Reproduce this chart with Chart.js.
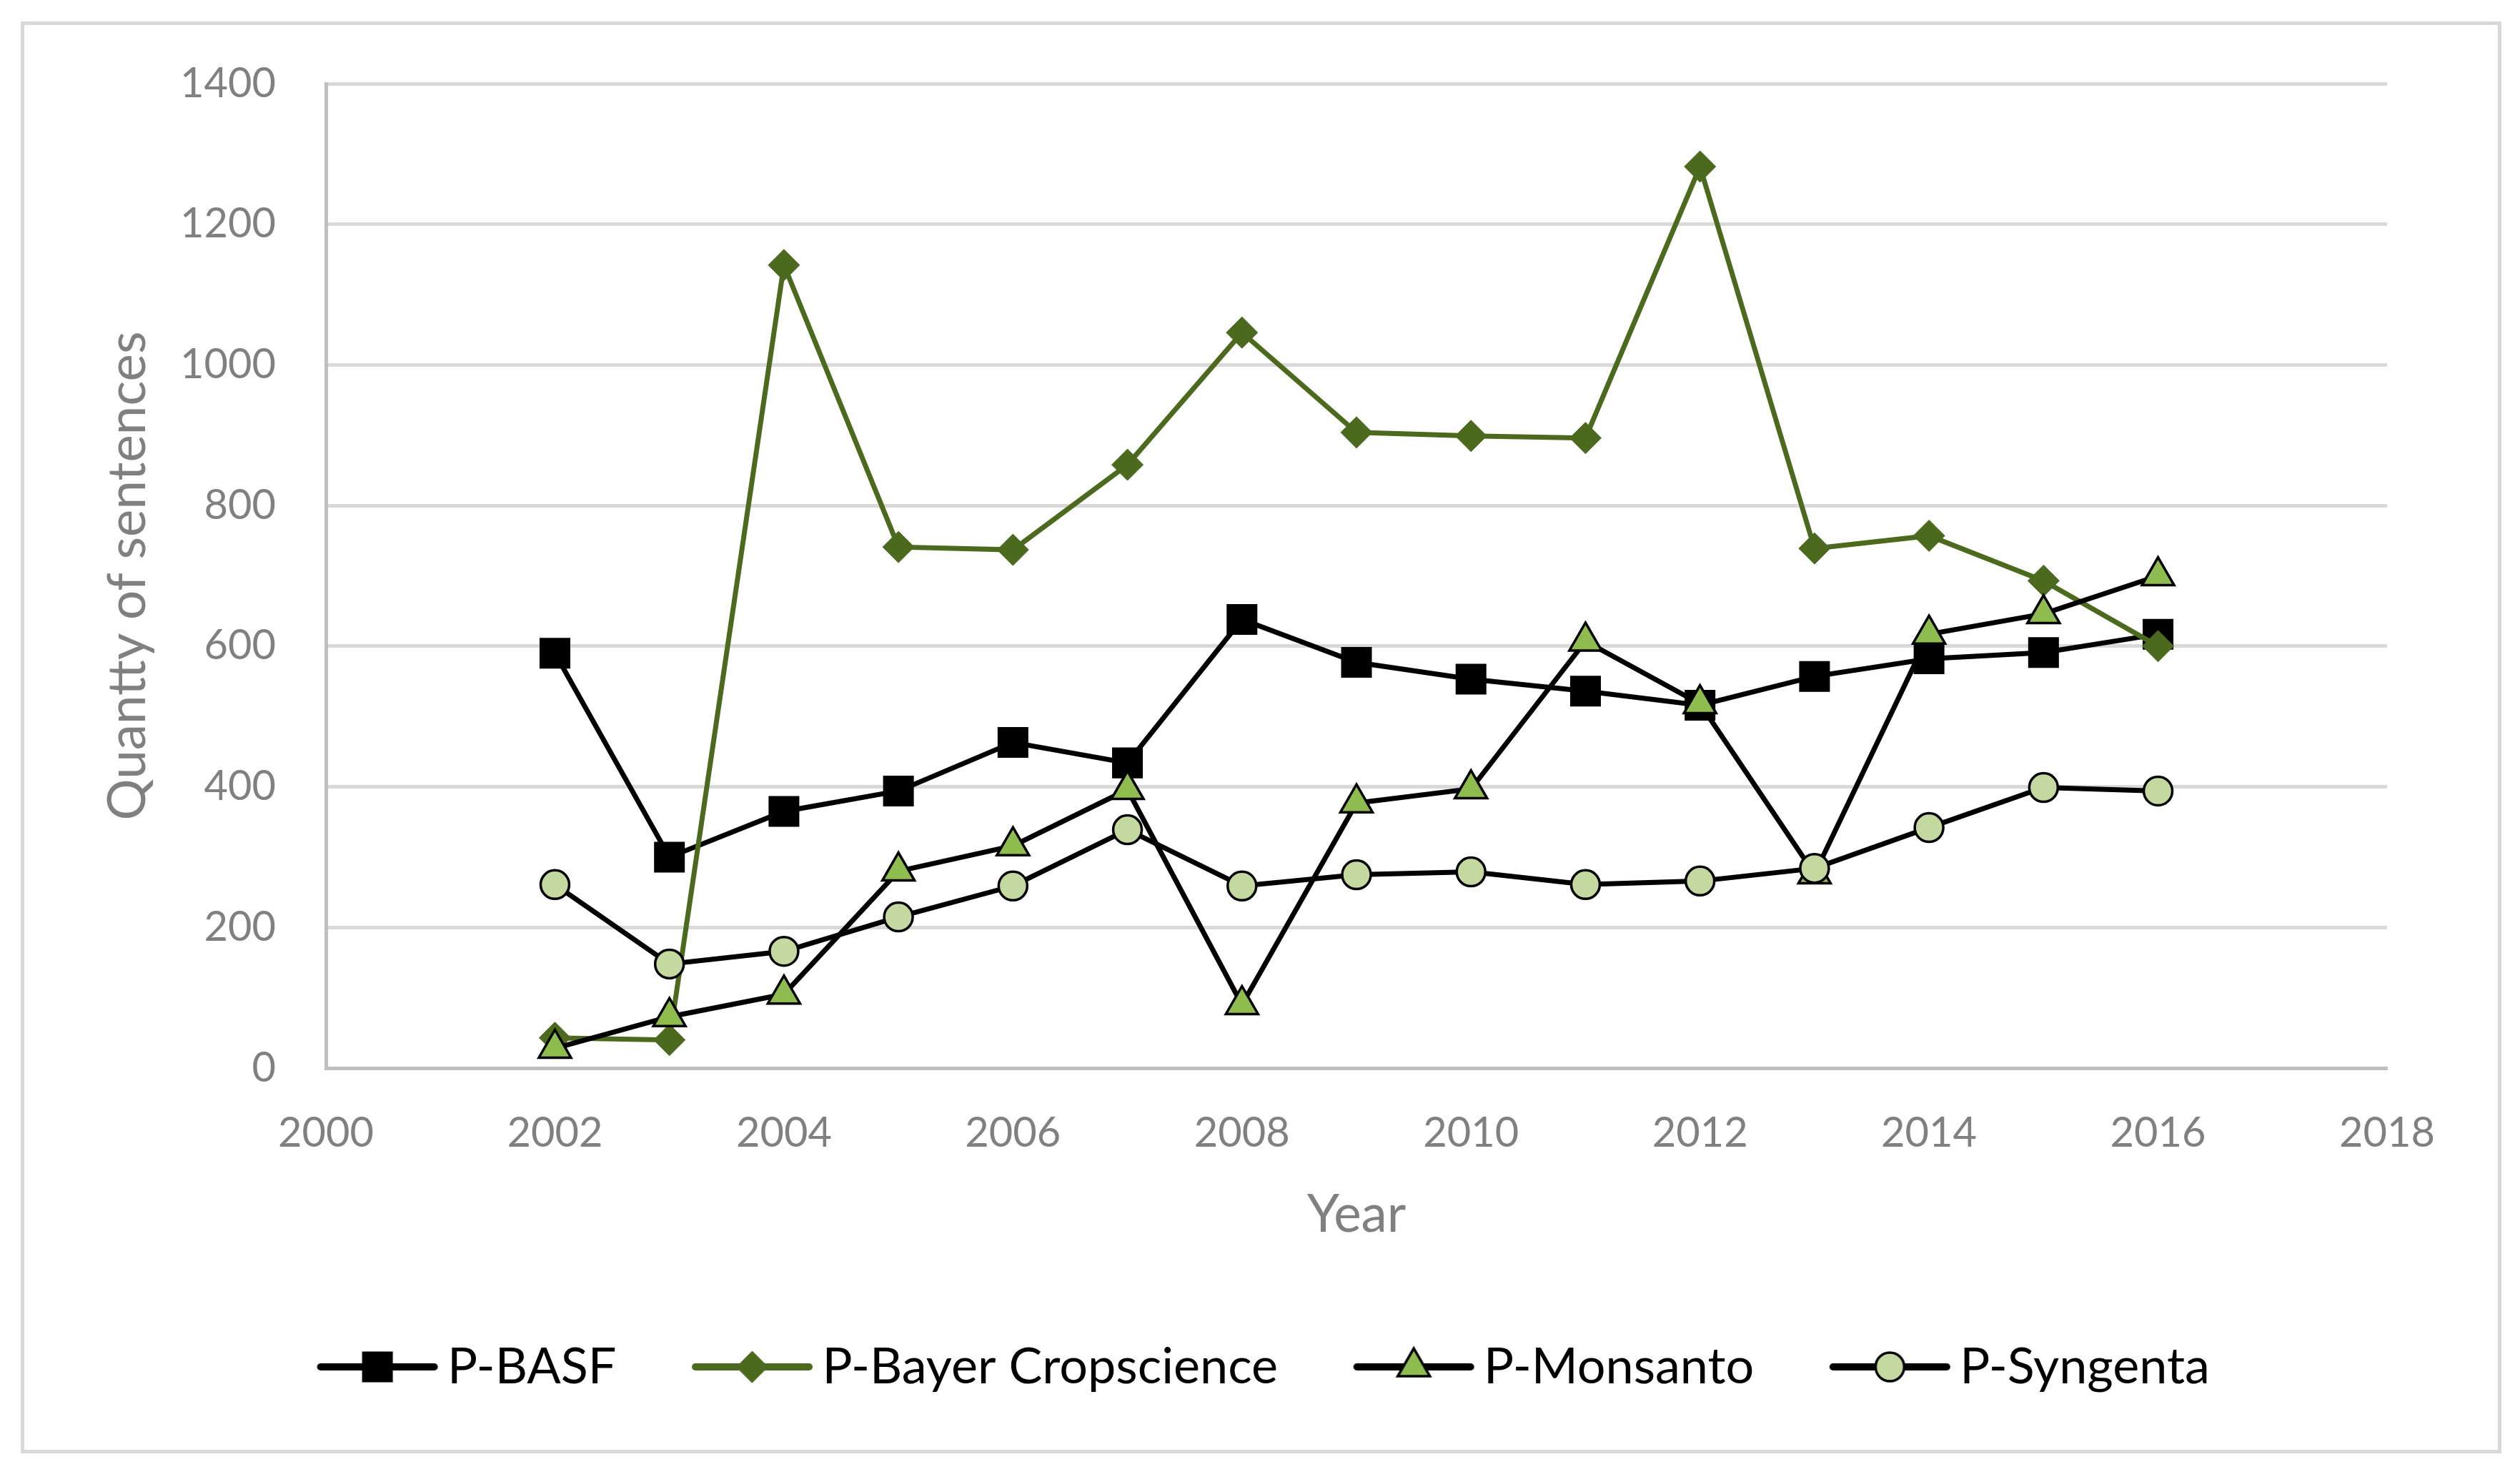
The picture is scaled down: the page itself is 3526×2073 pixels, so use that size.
<!DOCTYPE html>
<html>
<head>
<meta charset="utf-8">
<script src="https://cdn.jsdelivr.net/npm/chart.js@4/dist/chart.umd.min.js"></script>
<style>
  html, body { margin: 0; padding: 0; background: #fff; }
  canvas { display: block; }
</style>
</head>
<body>
<canvas id="chart" width="3526" height="2073"></canvas>
<script>
  // ── Data ─────────────────────────────────────────────────────────────────
  const years    = [2002, 2003, 2004, 2005, 2006, 2007, 2008, 2009, 2010, 2011, 2012, 2013, 2014, 2015, 2016];
  const basf     = [590, 300, 365, 394, 463, 434, 638, 577, 553, 536, 516, 557, 582, 591, 617];
  const bayer    = [43, 40, 1142, 741, 737, 858, 1046, 904, 899, 896, 1282, 739, 757, 693, 600];
  const monsanto = [28, 73, 105, 280, 316, 396, 90, 377, 397, 607, 518, 276, 617, 646, 700];
  const syngenta = [261, 148, 166, 215, 259, 339, 259, 275, 279, 261, 266, 284, 342, 399, 394];

  const seriesNames = ["P-BASF", "P-Bayer Cropscience", "P-Monsanto", "P-Syngenta"];
  const xTicks = [2000, 2002, 2004, 2006, 2008, 2010, 2012, 2014, 2016, 2018];
  const yTicks = [0, 200, 400, 600, 800, 1000, 1200, 1400];
  const xTitle = "Year";
  const yTitle = "Quantty of sentences";

  // ── Fonts: fit sizes so text widths match the reference (Calibri-ish) ───
  const FONT = 'Lato, "Open Sans", sans-serif';
  const mctx = document.createElement("canvas").getContext("2d");
  const fit = (text, target) => {
    mctx.font = "100px " + FONT;
    return 100 * target / mctx.measureText(text).width;
  };
  const tickSize   = fit("1400", 134);
  const titleSize  = (fit(xTitle, 140) + fit(yTitle, 677)) / 2;
  const legendSize = fit(seriesNames.join(""), 1600);

  // ── Layout targets (pixels) ──────────────────────────────────────────────
  const PLOT = { left: 456, right: 3340, top: 117, bottom: 1494 };
  const PAD_L = 100;
  const legPad = 10;
  const legendH = legPad + legendSize + 10;
  const legendTop = 1912 - legPad - legendSize / 2;
  const padBottom = 2073 - legendTop - legendH;
  const xAxisH = legendTop - PLOT.bottom;

  const GREEN_DARK = "#4b6a1e";
  const GREEN_MID  = "#8fbc4f";
  const GREEN_LITE = "#c3d99f";

  const styles = [
    { line: "#000", lineWidth: 7, pointStyle: "rect",     radius: 29, fill: "#000",     stroke: "#000",     bw: 2 },
    { line: GREEN_DARK, lineWidth: 7, pointStyle: "rectRot", radius: 22, fill: GREEN_DARK, stroke: GREEN_DARK, bw: 1 },
    { line: "#000", lineWidth: 7, pointStyle: "triangle", radius: 26, fill: GREEN_MID,  stroke: "#000",     bw: 3.5 },
    { line: "#000", lineWidth: 7, pointStyle: "circle",   radius: 20, fill: GREEN_LITE, stroke: "#000",     bw: 3.5 }
  ];
  const values = [basf, bayer, monsanto, syngenta];

  // ── Legend swatch: line with marker, drawn into a small canvas ───────────
  // boxWidth W sets the gap between items; the swatch sits at the right of the box.
  const W = 288 - legPad - legendSize / 2;
  const lineA = W / 2 + legendSize / 2 - 177;   // line start, relative to box centre
  const lineB = W / 2 + legendSize / 2 - 18;    // line end
  function makeSwatch(st) {
    const hw = Math.max(Math.abs(lineA), Math.abs(lineB)) + 6;
    const c = document.createElement("canvas");
    c.width = Math.ceil(hw * 2);
    c.height = 70;
    const g = c.getContext("2d");
    const cy = c.height / 2;
    g.strokeStyle = st.line;
    g.lineWidth = 10;
    g.lineCap = "round";
    g.beginPath();
    g.moveTo(hw + lineA, cy);
    g.lineTo(hw + lineB, cy);
    g.stroke();
    g.fillStyle = st.fill;
    g.strokeStyle = st.stroke;
    g.lineWidth = st.bw;
    Chart.helpers.drawPoint(g, { pointStyle: st.pointStyle, radius: st.radius, borderWidth: st.bw, rotation: 0 },
      hw + (lineA + lineB) / 2, cy);
    return c;
  }
  const swatches = styles.map(makeSwatch);

  // ── Chart frame (white background + light grey border) ──────────────────
  const framePlugin = {
    id: "frame",
    beforeDraw(chart) {
      const ctx = chart.ctx;
      ctx.save();
      ctx.fillStyle = "#fff";
      ctx.fillRect(0, 0, chart.width, chart.height);
      ctx.strokeStyle = "#d9d9d9";
      ctx.lineWidth = 5;
      ctx.strokeRect(31.5, 32.5, 3466, 1998);
      ctx.restore();
    }
  };

  Chart.defaults.font.family = FONT;
  Chart.defaults.color = "#808080";

  new Chart(document.getElementById("chart"), {
    type: "line",
    data: {
      datasets: seriesNames.map((name, i) => ({
        label: name,
        data: years.map((y, k) => ({ x: y, y: values[i][k] })),
        borderColor: styles[i].line,
        borderWidth: styles[i].lineWidth,
        pointStyle: styles[i].pointStyle,
        pointRadius: styles[i].radius,
        pointBackgroundColor: styles[i].fill,
        pointBorderColor: styles[i].stroke,
        pointBorderWidth: styles[i].bw,
        tension: 0,
        order: seriesNames.length - 1 - i   // later series drawn on top, as in the original
      }))
    },
    options: {
      responsive: false,
      animation: false,
      events: [],
      layout: { padding: { left: PAD_L, right: 3526 - PLOT.right, top: PLOT.top, bottom: padBottom } },
      plugins: {
        tooltip: { enabled: false },
        legend: {
          position: "bottom",
          labels: {
            usePointStyle: true,
            pointStyleWidth: W,
            padding: legPad,
            color: "#808080",
            font: { size: legendSize },
            generateLabels: (chart) => chart.data.datasets.map((ds, i) => ({
              text: ds.label,
              pointStyle: swatches[i],
              fillStyle: styles[i].fill,
              strokeStyle: styles[i].stroke,
              lineWidth: 0,
              hidden: false,
              datasetIndex: i
            }))
          }
        }
      },
      scales: {
        x: {
          type: "linear",
          min: xTicks[0],
          max: xTicks[xTicks.length - 1],
          afterBuildTicks: (s) => { s.ticks = xTicks.map(v => ({ value: v })); },
          afterFit: (s) => { s.height = xAxisH; },
          grid: { display: false, drawTicks: false },
          border: { display: true, color: "#bfbfbf", width: 5 },
          ticks: {
            font: { size: tickSize },
            padding: 91 - 0.6 * tickSize,
            maxRotation: 0,
            autoSkip: false,
            callback: (v) => String(v)
          },
          title: {
            display: true,
            text: xTitle,
            font: { size: titleSize },
            padding: { top: 0, bottom: legendTop - 1700 - 0.6 * titleSize }
          }
        },
        y: {
          min: yTicks[0],
          max: yTicks[yTicks.length - 1],
          afterBuildTicks: (s) => { s.ticks = yTicks.map(v => ({ value: v })); },
          afterFit: (s) => { s.width = PLOT.left - PAD_L; },
          grid: {
            color: (c) => c.tick && c.tick.value === 0 ? "#bfbfbf" : "#d9d9d9",
            lineWidth: 5,
            drawTicks: false
          },
          border: { display: true, color: "#bfbfbf", width: 5 },
          ticks: {
            font: { size: tickSize },
            padding: 70,
            callback: (v) => String(v)
          },
          title: {
            display: true,
            text: yTitle,
            font: { size: titleSize },
            padding: { top: 80 - 0.6 * titleSize, bottom: 0 }
          }
        }
      }
    },
    plugins: [framePlugin]
  });
</script>
</body>
</html>
